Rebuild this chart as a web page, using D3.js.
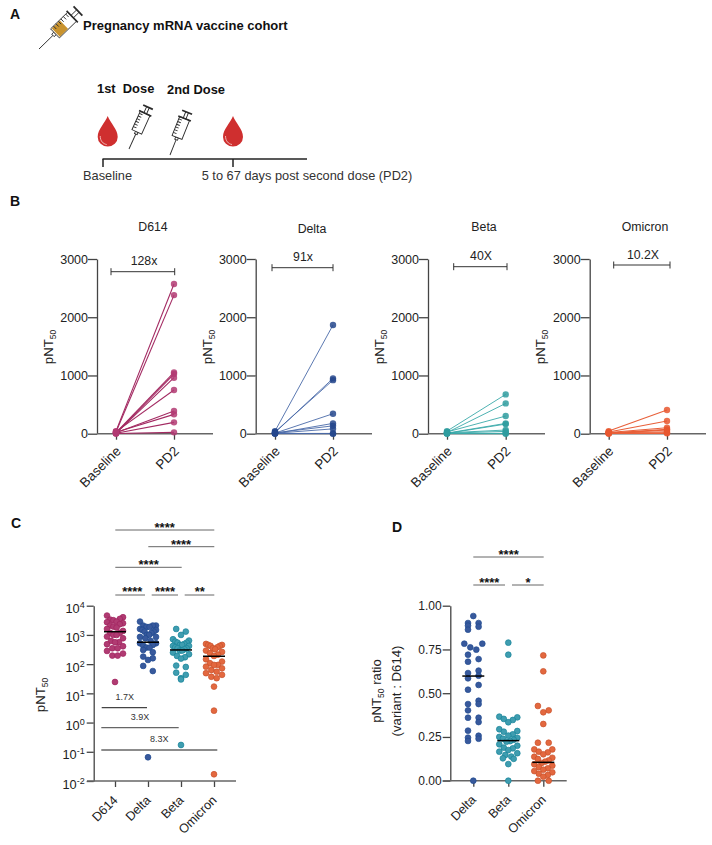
<!DOCTYPE html>
<html>
<head>
<meta charset="utf-8">
<script src="https://cdn.jsdelivr.net/npm/d3@7"></script>
<style>
  body { margin: 0; background: white; }
  text { font-family: "Liberation Sans", Arial, sans-serif; fill: #222; }
</style>
</head>
<body>
<div id="chart"></div>
<script>
// values
const timepoints = ['Baseline', 'PD2'];
const variants = ['D614', 'Delta', 'Beta', 'Omicron'];
const ratioVariants = ['Delta', 'Beta', 'Omicron'];
const foldLabels = ['128x', '91x', '40X', '10.2X'];

const d614Baseline = [45, 30, 20, 10, 5, 35, 15, 25, 8, 3];
const d614Pd2 = [2570, 2380, 1053, 1025, 962, 750, 389, 332, 195, 23];
const deltaBaseline = [45, 20, 30, 10, 5, 15, 8, 3, 2];
const deltaPd2 = [1866, 950, 920, 343, 177, 135, 83, 5, 0];
const betaBaseline = [45, 20, 30, 10, 5, 15, 8, 3, 2];
const betaPd2 = [675, 520, 303, 177, 165, 63, 40, 6, 0];
const omicronBaseline = [45, 30, 20, 10, 5, 15, 8, 3];
const omicronPd2 = [406, 218, 103, 75, 63, 34, 17, 6];

const d614Titers = [4590, 4030, 3530, 3350, 3180, 2860, 2720, 2510, 2320, 2090, 1930, 1780, 1600, 1370, 1170, 1170,
  1000, 1000, 877, 769, 623, 561, 561, 479, 409, 349, 349, 283, 230, 196, 196, 24.5];
const deltaTiters = [2860, 2090, 2090, 2090, 1880, 1880, 1600, 1480, 1480, 1300, 1300, 1170, 1000, 1000, 854, 854,
  769, 623, 518, 518, 455, 431, 368, 368, 306, 255, 181, 159, 139, 87, 58, 0.065];
const betaTiters = [1600, 1300, 1000, 711, 640, 591, 546, 546, 492, 455, 455, 420, 420, 378, 349, 349, 323, 291, 291,
  248, 218, 191, 172, 155, 89, 80, 51, 43, 33, 30, 0.171];
const omicronTiters = [492, 455, 455, 420, 420, 378, 349, 323, 291, 262, 236, 212, 191, 147, 122, 107, 94, 94, 82,
  72, 63, 55, 49, 43, 37, 33, 17, 2.56, 0.017];
const logMedians = [1290, 562, 306, 186];

const deltaRatios = [0.941, 0.901, 0.901, 0.886, 0.88, 0.863, 0.783, 0.783, 0.762, 0.749, 0.72, 0.695, 0.68, 0.629,
  0.615, 0.6, 0.585, 0.547, 0.52, 0.457, 0.438, 0.438, 0.402, 0.36, 0.36, 0.335, 0.286, 0.257, 0.246, 0.24, 0.227, 0];
const betaRatios = [0.789, 0.72, 0.366, 0.362, 0.353, 0.347, 0.334, 0.294, 0.284, 0.28, 0.265, 0.258, 0.25, 0.245,
  0.24, 0.234, 0.226, 0.223, 0.208, 0.2, 0.189, 0.185, 0.175, 0.166, 0.157, 0.147, 0.138, 0.128, 0.125, 0.095, 0];
const omicronRatios = [0.716, 0.625, 0.427, 0.402, 0.391, 0.324, 0.217, 0.217, 0.179, 0.179, 0.166, 0.162, 0.151,
  0.137, 0.131, 0.124, 0.116, 0.109, 0.101, 0.094, 0.086, 0.078, 0.071, 0.063, 0.055, 0.048, 0.04, 0.033, 0.023, 0, 0];
const ratioMedians = [0.598, 0.229, 0.105];

const logTicks = [0.01, 0.1, 1, 10, 100, 1000, 10000];
const ratioTicks = [0, 0.25, 0.5, 0.75, 1];
const titerTicks = [0, 1000, 2000, 3000];

const lineColors = ['#a32a62', '#4a6aa8', '#3aa9a9', '#e8603a'];
const dotFills = ['#b13a72', '#24468c', '#2f9c9f', '#e8572f'];
const swarmFills = ['#b03b72', '#38599c', '#3f9db0', '#e3683f'];
const swarmStrokes = ['#a0235f', '#1f4a90', '#16849a', '#c9512c'];
const axisColor = '#444444';

const svg = d3.select('#chart').append('svg').attr('width', 712).attr('height', 845);

function addText(x, y, str, opts = {}) {
  return svg.append('text')
    .attr('x', x)
    .attr('y', y)
    .attr('text-anchor', opts.anchor || 'start')
    .style('font-size', (opts.size || 12.3) + 'px')
    .style('font-weight', opts.bold ? 'bold' : 'normal')
    .style('fill', opts.fill || '#222')
    .text(str);
}

function addStars(x, centerY, str) {
  addText(x, centerY + 7.4, str, {anchor: 'middle', size: 13, bold: true, fill: '#111'});
}

function addRule(x1, x2, y, color = '#666', width = 1) {
  svg.append('line')
    .attr('x1', x1).attr('x2', x2)
    .attr('y1', y).attr('y2', y)
    .attr('stroke', color)
    .attr('stroke-width', width);
}

function addPnt50(x, y, suffix, size = 13.2) {
  const label = svg.append('text')
    .attr('transform', `translate(${x},${y}) rotate(-90)`)
    .attr('text-anchor', 'middle')
    .style('font-size', size + 'px');
  label.append('tspan').text('pNT');
  label.append('tspan').attr('dy', 3).style('font-size', '8.5px').text('50');
  if (suffix) {
    label.append('tspan').attr('dy', -3).text(suffix);
  }
}

function styleAxis(g, fontSize) {
  g.selectAll('path.domain').attr('stroke', axisColor).attr('stroke-width', 1.3);
  g.selectAll('.tick line').attr('stroke', axisColor).attr('stroke-width', 1.3);
  g.selectAll('text')
    .style('font-family', '"Liberation Sans", Arial, sans-serif')
    .style('font-size', fontSize + 'px')
    .style('fill', '#222');
}

function rotateLabels(g, fontSize, shift) {
  styleAxis(g, fontSize);
  g.selectAll('.tick text')
    .attr('text-anchor', 'end')
    .attr('transform', `translate(${shift[0]},${shift[1]}) rotate(-45)`)
    .attr('dy', '0.35em')
    .attr('y', 4)
    .attr('x', 0);
}

function drawBottomAxis(scale, y, xLeft, xRight, fontSize, shift) {
  const g = svg.append('g')
    .attr('transform', `translate(0,${y})`)
    .call(d3.axisBottom(scale).tickSize(6));
  g.select('path.domain').remove();
  rotateLabels(g, fontSize, shift);
  addRule(xLeft, xRight, y, '#666', 1.4);
}

/* panel A */
function drawSyringe(tip, top, liquid) {
  const dx = top[0] - tip[0];
  const dy = top[1] - tip[1];
  const len = Math.hypot(dx, dy);
  const angle = Math.atan2(dy, dx) * 180 / Math.PI;
  const k = len / 100;
  const g = svg.append('g')
    .attr('transform', `translate(${tip[0]},${tip[1]}) rotate(${angle}) scale(${k})`)
    .attr('fill', 'none')
    .attr('stroke', '#2b2b2b')
    .attr('stroke-width', 0.9 / k);
  g.append('path').attr('d', 'M0,0L34,0');
  g.append('rect').attr('x', 34).attr('y', -3).attr('width', 5).attr('height', 6).attr('fill', 'white');
  g.append('rect').attr('x', 39).attr('y', -11).attr('width', 42).attr('height', 22).attr('fill', 'white');
  if (liquid) {
    g.append('rect').attr('x', 41).attr('y', -10).attr('width', 20).attr('height', 20)
      .attr('fill', '#c9932e').attr('stroke', 'none');
  }
  [46, 52, 58, 64, 70, 76].forEach(m => {
    g.append('path').attr('d', `M${m},-11L${m},-4`);
  });
  g.append('path').attr('d', 'M81,-14L81,14').attr('stroke-width', 1.6 / k);
  g.append('path').attr('d', 'M81,-3L95,-3M81,3L95,3');
  g.append('path').attr('d', 'M95,-11L95,11').attr('stroke-width', 1.8 / k);
}

function drawDrop(cx, top) {
  const g = svg.append('g').attr('transform', `translate(${cx},${top})`);
  g.append('path')
    .attr('d', 'M0,0C2.5,7 10,13 10,21A10,9.5 0 0 1 -10,21C-10,13 -2.5,7 0,0Z')
    .attr('fill', '#cf2f2f');
  g.append('path')
    .attr('d', 'M-7.5,20C-7.5,25 -4.5,28 -1,28.5')
    .attr('fill', 'none')
    .attr('stroke', '#f3c4c0')
    .attr('stroke-width', 0.9);
}

function drawPanelA() {
  addText(10, 19, 'A', {bold: true, size: 14, fill: '#111'});
  drawSyringe([39, 49], [80, 9], true);
  addText(83, 30, 'Pregnancy mRNA vaccine cohort', {bold: true, size: 13, fill: '#111'});
  addText(97, 93, '1st  Dose', {bold: true, size: 12.9, fill: '#111'}).attr('xml:space', 'preserve').style('white-space', 'pre');
  addText(167, 94, '2nd Dose', {bold: true, size: 12.9, fill: '#111'});
  drawDrop(107.7, 116);
  drawDrop(233, 116);
  drawSyringe([129, 149], [149, 105], false);
  drawSyringe([170, 155], [188, 110], false);
  addRule(102.5, 307, 159, '#222', 1.5);
  [103, 233].forEach(x => {
    svg.append('line').attr('x1', x).attr('x2', x).attr('y1', 159).attr('y2', 167)
      .attr('stroke', '#222').attr('stroke-width', 1.5);
  });
  addText(83, 180, 'Baseline', {size: 12.8, fill: '#333'});
  addText(201.7, 180, '5 to 67 days post second dose (PD2)', {size: 12.8, fill: '#333'});
}

/* panel B */
function drawPairedPanel(i, baseline, pd2, layout) {
  const y = d3.scaleLinear().domain([0, 3000]).range([433.7, 259]);
  const x = d3.scalePoint().domain(timepoints).range([layout.base, layout.post]);

  addText(layout.titleX, layout.titleY, variants[i], {anchor: 'middle'});

  const yAxis = svg.append('g')
    .attr('transform', `translate(${layout.axis},0)`)
    .call(d3.axisLeft(y).tickValues(titerTicks).tickFormat(d3.format('d')).tickSize(9).tickSizeOuter(0).tickPadding(0));
  styleAxis(yAxis, 12.5);
  drawBottomAxis(x, 433.7, layout.axis, layout.right, 13.4, [-1, 12]);

  addPnt50(layout.labelX, 347);

  const pairs = d3.zip(baseline, pd2);
  svg.append('g').selectAll('line').data(pairs).join('line')
    .attr('x1', x('Baseline')).attr('x2', x('PD2'))
    .attr('y1', d => y(d[0])).attr('y2', d => y(d[1]))
    .attr('stroke', lineColors[i])
    .attr('stroke-width', i === 0 || i === 3 ? 1.1 : 0.9);

  timepoints.forEach((t, k) => {
    svg.append('g').selectAll('circle').data(pairs).join('circle')
      .attr('cx', x(t))
      .attr('cy', d => y(d[k]))
      .attr('r', 3.2)
      .attr('fill', dotFills[i])
      .attr('fill-opacity', 0.85);
  });

  // fold change bracket
  addRule(layout.b1, layout.b2, layout.by, '#333', 1);
  [layout.b1, layout.b2].forEach(bx => {
    svg.append('line').attr('x1', bx).attr('x2', bx)
      .attr('y1', layout.by - 3.5).attr('y2', layout.by + 3.5)
      .attr('stroke', '#333').attr('stroke-width', 1);
  });
  addText((layout.foldX), layout.by - 6.5, foldLabels[i], {anchor: 'middle'});
}

function drawPanelB() {
  addText(10, 206, 'B', {bold: true, size: 14, fill: '#111'});
  const layouts = [
    {axis: 97, right: 213, base: 116, post: 174, titleX: 153, titleY: 231, labelX: 53, b1: 111, b2: 174.7, by: 271.7, foldX: 144},
    {axis: 255.7, right: 372, base: 275, post: 333, titleX: 312, titleY: 233, labelX: 212, b1: 272, b2: 333, by: 267.7, foldX: 303},
    {axis: 428, right: 545, base: 447, post: 505.7, titleX: 484, titleY: 231, labelX: 384, b1: 453.7, b2: 507, by: 266.7, foldX: 481},
    {axis: 589.7, right: 706, base: 608.7, post: 667, titleX: 645, titleY: 231, labelX: 545, b1: 613.7, b2: 670, by: 265, foldX: 643}
  ];
  drawPairedPanel(0, d614Baseline, d614Pd2, layouts[0]);
  drawPairedPanel(1, deltaBaseline, deltaPd2, layouts[1]);
  drawPairedPanel(2, betaBaseline, betaPd2, layouts[2]);
  drawPairedPanel(3, omicronBaseline, omicronPd2, layouts[3]);
}

/* swarm layout: group values in pixel rows, spread each row symmetrically, outer dots highest */
function rowOffsets(n, half) {
  if (n === 1) return [0];
  if (n === 2) return [-half * 0.6, half * 0.6];
  if (n === 3) return [-half * 0.6, half * 0.6, 0];
  const offs = d3.range(n).map(k => -half + k * 2 * half / (n - 1));
  return offs.sort((a, b) => Math.abs(b) - Math.abs(a));
}

// sparse groups sit in two columns, dots alternating left and right
function columnOffsets(n, prevDx) {
  const start = prevDx < 0 ? 5.3 : -5.3;
  return d3.range(n).map(k => (k % 2 ? -start : start));
}

function swarm(values, y, rowHeight, half, twoColumns) {
  const sorted = values.map(v => ({v, py: y(v)})).sort((a, b) => a.py - b.py);
  const placed = [];
  let row = [];
  const flush = () => {
    const prev = placed[placed.length - 1];
    const near = prev && row[0].py - prev.py < 12;
    const useColumns = twoColumns && row.length < 5 && near;
    const offs = useColumns ? columnOffsets(row.length, prev.dx) : rowOffsets(row.length, half);
    row.forEach((p, k) => placed.push({...p, dx: offs[k]}));
    row = [];
  };
  sorted.forEach(p => {
    if (row.length && p.py - row[0].py > rowHeight) flush();
    row.push(p);
  });
  flush();
  return placed;
}

function drawSwarm(values, cx, y, colorIndex, median, opts) {
  svg.append('g').selectAll('circle').data(swarm(values, y, opts.rowHeight, opts.half, opts.twoColumns)).join('circle')
    .attr('cx', d => cx + d.dx)
    .attr('cy', d => d.py)
    .attr('r', 2.9)
    .attr('fill', swarmFills[colorIndex])
    .attr('stroke', swarmStrokes[colorIndex])
    .attr('stroke-width', 0.7);
  addRule(cx - 11, cx + 11, y(median), '#000', 1.5);
}

/* panel C */
function drawPanelC() {
  addText(11, 528, 'C', {bold: true, size: 14, fill: '#111'});
  const y = d3.scaleLog().domain([0.01, 10000]).range([781, 605.7]);
  const x = d3.scalePoint().domain(variants).range([115, 214]);

  const yAxis = svg.append('g')
    .attr('transform', 'translate(93.7,0)')
    .call(d3.axisLeft(y).tickValues(logTicks).tickFormat(() => '').tickSize(7).tickSizeOuter(0));
  styleAxis(yAxis, 12.8);
  yAxis.selectAll('.tick text').each(function (d) {
    const t = d3.select(this).attr('x', -9).attr('dy', '0.55em');
    t.append('tspan').text('10');
    t.append('tspan').attr('dy', -5).style('font-size', '9px').text(Math.round(Math.log10(d)));
  });
  drawBottomAxis(x, 781, 87, 236, 12.6, [-3, 14]);
  addPnt50(45, 695);

  [d614Titers, deltaTiters, betaTiters, omicronTiters].forEach((values, i) => {
    drawSwarm(values, x(variants[i]), y, i, logMedians[i], {rowHeight: 6.2, half: 8});
  });

  addRule(115.3, 214.3, 530);
  addStars(164.7, 524.7, '****');
  addRule(148.3, 214.3, 546.7);
  addStars(181, 541.7, '****');
  addRule(115.3, 181.7, 567.3);
  addStars(148.7, 562, '****');
  addRule(115.3, 145, 595);
  addStars(132.3, 588.3, '****');
  addRule(151.7, 178, 595);
  addStars(165, 588.3, '****');
  addRule(184.7, 214.3, 595);
  addStars(199.7, 588.3, '**');

  addRule(101.7, 147, 707.7, '#444', 1.2);
  addText(124.7, 700, '1.7X', {anchor: 'middle', size: 9, fill: '#333'});
  addRule(101.3, 178.7, 727.7, '#666', 1.3);
  addText(140, 720, '3.9X', {anchor: 'middle', size: 9, fill: '#333'});
  addRule(101.3, 217.3, 750, '#666', 1.3);
  addText(159.3, 742.3, '8.3X', {anchor: 'middle', size: 9, fill: '#333'});
}

/* panel D */
function drawPanelD() {
  addText(392, 532, 'D', {bold: true, size: 14, fill: '#111'});
  const y = d3.scaleLinear().domain([0, 1]).range([780.7, 605.7]);
  const x = d3.scalePoint().domain(ratioVariants).range([473.3, 543.3]);

  const yAxis = svg.append('g')
    .attr('transform', 'translate(450.3,0)')
    .call(d3.axisLeft(y).tickValues(ratioTicks).tickFormat(d3.format('.2f')).tickSize(7.6).tickSizeOuter(0).tickPadding(1));
  styleAxis(yAxis, 12);
  drawBottomAxis(x, 780.7, 442.7, 566.7, 12.6, [-3, 14]);

  addPnt50(381, 691, ' ratio');
  svg.append('text')
    .attr('transform', 'translate(401,691) rotate(-90)')
    .attr('text-anchor', 'middle')
    .style('font-size', '13.2px')
    .text('(variant : D614)');

  [deltaRatios, betaRatios, omicronRatios].forEach((values, i) => {
    drawSwarm(values, x(ratioVariants[i]), y, i + 1, ratioMedians[i], {rowHeight: 6.5, half: 9, twoColumns: i === 0});
  });

  addRule(473.3, 543.7, 557);
  addStars(508.7, 552, '****');
  addRule(473.3, 505, 585);
  addStars(489.3, 580, '****');
  addRule(512, 543.7, 585);
  addStars(528, 580, '*');
}

drawPanelA();
drawPanelB();
drawPanelC();
drawPanelD();
</script>
</body>
</html>
